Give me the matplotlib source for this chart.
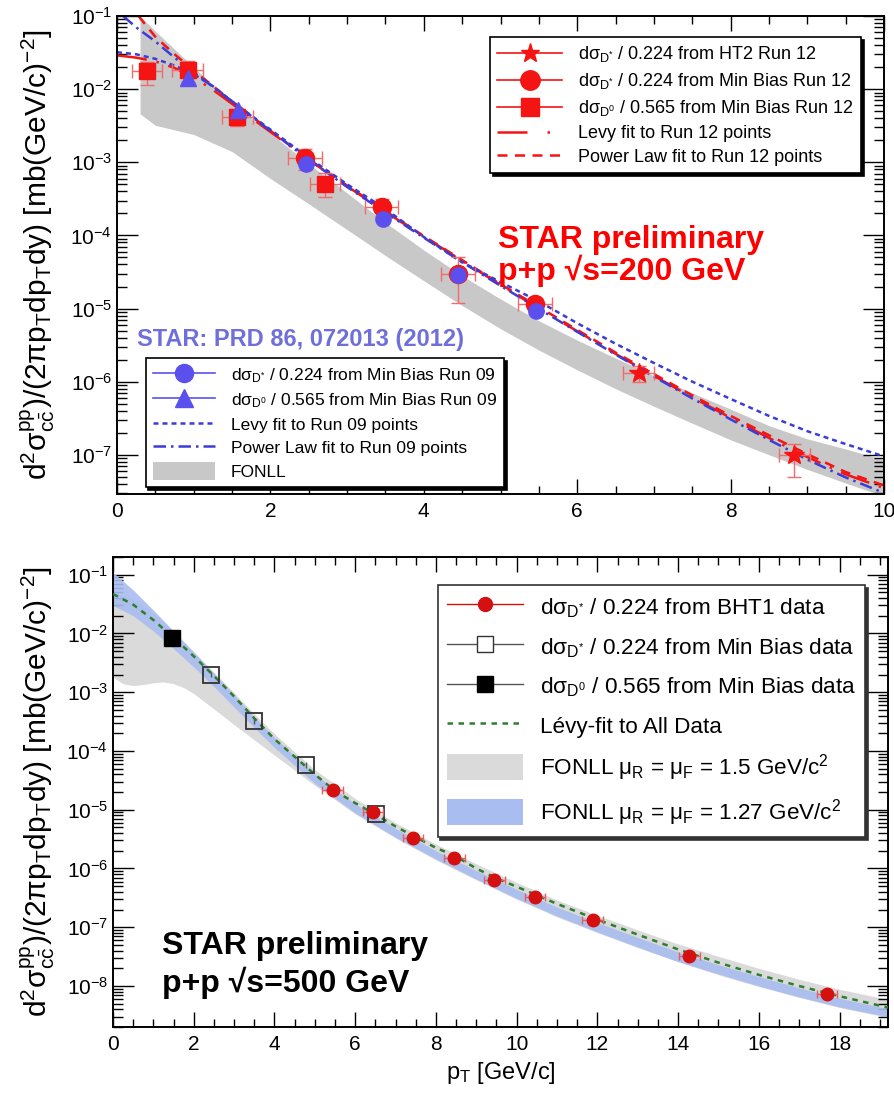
import numpy as np
import matplotlib
matplotlib.use("Agg")
import matplotlib.pyplot as plt
from matplotlib.lines import Line2D
from matplotlib.patches import Patch
from matplotlib.ticker import LogLocator, NullFormatter, MultipleLocator

plt.rcParams["font.family"] = ["Liberation Sans", "DejaVu Sans"]
plt.rcParams["mathtext.fontset"] = "custom"
plt.rcParams["mathtext.rm"] = "Liberation Sans"
plt.rcParams["mathtext.it"] = "Liberation Sans:italic"
plt.rcParams["mathtext.bf"] = "Liberation Sans:bold"
plt.rcParams["mathtext.default"] = "regular"

# ---------------- 200 GeV (top) ----------------
run12_star_x = [6.8, 8.83]
run12_star_y = [1.3e-6, 1.0e-7]
run12_star_lo = [0.3e-6, 0.5e-7]
run12_star_hi = [0.35e-6, 0.4e-7]

run12_circ_x = [2.45, 3.45, 4.45, 5.45]
run12_circ_y = [1.13e-3, 2.45e-4, 3.0e-5, 1.15e-5]
run12_circ_lo = [0.35e-3, 0.6e-4, 1.8e-5, 0.3e-5]
run12_circ_hi = [0.4e-3, 0.7e-4, 2.0e-5, 0.25e-5]

run12_sq_x = [0.39, 0.92, 1.57, 2.71]
run12_sq_y = [0.0175, 0.0185, 0.0042, 5.1e-4]
run12_sq_lo = [0.006, 0.006, 0.0011, 1.8e-4]
run12_sq_hi = [0.006, 0.006, 0.0012, 2.0e-4]

run09_circ_x = [2.46, 3.47, 4.45, 5.46]
run09_circ_y = [9.6e-4, 1.7e-4, 2.9e-5, 9.3e-6]
run09_tri_x = [0.92, 1.58]
run09_tri_y = [0.0142, 0.0052]

fit_x = [0, 0.25, 0.5, 0.75, 1.0, 1.25, 1.5, 2.0, 2.5, 3.0, 3.5, 4.0, 4.5,
         5.0, 5.5, 6.0, 6.5, 7.0, 7.5, 8.0, 8.5, 9.0, 9.5, 10.0]
levy12_y = [0.029, 0.027, 0.024, 0.0195, 0.0145, 0.0098, 0.0063, 0.0026,
            1.08e-3, 4.7e-4, 2.1e-4, 9.6e-5, 4.5e-5, 2.1e-5, 1.0e-5, 4.9e-6,
            2.4e-6, 1.2e-6, 6.1e-7, 3.2e-7, 1.7e-7, 9.3e-8, 5.4e-8, 3.5e-8]
levy09_y = [0.032, 0.030, 0.026, 0.021, 0.016, 0.011, 0.0068, 0.0028,
            1.15e-3, 5.0e-4, 2.3e-4, 9.5e-5, 4.3e-5, 2.3e-5, 1.25e-5, 6.3e-6,
            3.3e-6, 1.8e-6, 1.0e-6, 5.8e-7, 3.4e-7, 2.1e-7, 1.4e-7, 9.5e-8]

pow12_x = [0.28, 0.5, 0.75, 1.0, 1.5, 2.0, 2.5, 3.0, 3.5, 4.0, 4.5, 5.0,
           5.5, 6.0, 6.5, 7.0, 7.5, 8.0, 8.5, 9.0, 9.5, 10.0]
pow12_y = [0.1, 0.052, 0.03, 0.018, 0.0068, 0.0027, 1.1e-3, 4.8e-4, 2.15e-4,
           9.8e-5, 4.6e-5, 2.15e-5, 1.05e-5, 5.1e-6, 2.5e-6, 1.27e-6, 6.5e-7,
           3.4e-7, 1.85e-7, 1.02e-7, 5.8e-8, 3.8e-8]
pow09_x = [0.08, 0.25, 0.5, 0.75, 1.0, 1.5, 2.0, 2.5, 3.0, 3.5, 4.0, 4.5,
           5.0, 5.5, 6.0, 6.5, 7.0, 7.5, 8.0, 8.5, 9.0, 9.5, 10.0]
pow09_y = [0.1, 0.07, 0.045, 0.027, 0.017, 0.0068, 0.0027, 1.08e-3, 4.6e-4,
           2.05e-4, 9.3e-5, 4.3e-5, 2.05e-5, 9.9e-6, 4.8e-6, 2.35e-6, 1.17e-6,
           5.9e-7, 3.05e-7, 1.6e-7, 8.6e-8, 4.9e-8, 3.0e-8]

fonll200_x = [0.3, 0.5, 1.0, 1.5, 2.0, 2.5, 3.0, 3.5, 4.0, 4.5, 5.0, 5.5,
              6.0, 6.5, 7.0, 7.5, 8.0, 8.5, 9.0, 9.5, 10.0]
fonll200_hi = [0.1, 0.062, 0.02, 0.0065, 0.0025, 9.5e-4, 3.8e-4, 1.5e-4,
               6.3e-5, 2.8e-5, 1.35e-5, 6.8e-6, 3.7e-6, 2.1e-6, 1.2e-6,
               7.0e-7, 4.2e-7, 2.5e-7, 1.65e-7, 1.2e-7, 8.5e-8]
fonll200_lo = [0.0046, 0.0032, 0.0024, 0.0014, 6.0e-4, 2.7e-4, 1.2e-4,
               5.3e-5, 2.4e-5, 1.1e-5, 5.3e-6, 2.7e-6, 1.45e-6, 8.0e-7,
               4.6e-7, 2.7e-7, 1.6e-7, 1.0e-7, 6.3e-8, 4.1e-8, 2.7e-8]

# ---------------- 500 GeV (bottom) ----------------
bht1_x = [5.44, 6.45, 7.44, 8.46, 9.45, 10.46, 11.88, 14.28, 17.68]
bht1_y = [2.15e-5, 9.1e-6, 3.3e-6, 1.48e-6, 6.3e-7, 3.3e-7, 1.34e-7,
          3.3e-8, 7.2e-9]
mb_dstar_x = [2.43, 3.5, 4.77, 6.52]
mb_dstar_y = [2.0e-3, 3.2e-4, 5.8e-5, 8.5e-6]
mb_d0_x = [1.46]
mb_d0_y = [8.5e-3]

levy500_x = [0, 0.5, 1.0, 1.5, 2.0, 2.5, 3.0, 3.5, 4.0, 4.5, 5.0, 5.5, 6.0,
             6.5, 7.0, 7.5, 8.0, 8.5, 9.0, 9.5, 10.0, 10.5, 11.0, 12.0, 13.0,
             14.0, 15.0, 16.0, 17.0, 18.0, 19.2]
levy500_y = [0.047, 0.031, 0.017, 0.0085, 0.0041, 1.9e-3, 8.5e-4, 3.6e-4,
             1.6e-4, 8.0e-5, 4.0e-5, 2.1e-5, 1.3e-5, 8.3e-6, 5.2e-6, 3.4e-6,
             2.25e-6, 1.6e-6, 1.0e-6, 6.8e-7, 4.9e-7, 3.5e-7, 2.5e-7, 1.35e-7,
             7.5e-8, 4.2e-8, 2.5e-8, 1.55e-8, 1.0e-8, 6.7e-9, 4.3e-9]

fonll127_x = [0, 0.5, 1.0, 1.5, 2.0, 2.5, 3.0, 3.5, 4.0, 5.0, 6.0, 7.0, 8.0,
              9.0, 10.0, 11.0, 12.0, 13.0, 14.0, 15.0, 16.0, 17.0, 18.0, 19.2]
fonll127_hi = [0.11, 0.055, 0.025, 0.011, 0.0048, 2.1e-3, 9.0e-4, 3.8e-4,
               1.7e-4, 4.0e-5, 1.25e-5, 4.8e-6, 2.0e-6, 9.2e-7, 4.4e-7,
               2.2e-7, 1.2e-7, 6.7e-8, 3.8e-8, 2.3e-8, 1.45e-8, 9.3e-9,
               6.2e-9, 4.1e-9]
fonll127_lo = [0.03, 0.02, 0.011, 0.0055, 0.0027, 1.25e-3, 5.6e-4, 2.5e-4,
               1.15e-4, 2.8e-5, 8.8e-6, 3.4e-6, 1.45e-6, 6.6e-7, 3.1e-7,
               1.55e-7, 8.3e-8, 4.6e-8, 2.6e-8, 1.6e-8, 1.0e-8, 6.5e-9,
               4.4e-9, 3.0e-9]

fonll15_x = [0, 0.25, 0.5, 0.75, 1.0, 1.25, 1.5, 1.75, 2.0, 2.5, 3.0, 3.5,
             4.0, 5.0, 6.0, 7.0, 8.0, 9.0, 10.0, 11.0, 12.0, 13.0, 14.0, 15.0,
             16.0, 17.0, 18.0, 19.2]
fonll15_hi = [0.05, 0.045, 0.038, 0.03, 0.022, 0.015, 0.0105, 0.0072,
              0.0049, 2.2e-3, 9.8e-4, 4.3e-4, 1.95e-4, 4.8e-5, 1.55e-5,
              6.0e-6, 2.6e-6, 1.2e-6, 5.8e-7, 2.9e-7, 1.6e-7, 9.0e-8,
              5.2e-8, 3.2e-8, 2.0e-8, 1.3e-8, 8.8e-9, 5.9e-9]
fonll15_lo = [1.8e-3, 1.4e-3, 1.3e-3, 1.35e-3, 1.45e-3, 1.5e-3, 1.4e-3,
              1.2e-3, 9.5e-4, 5.2e-4, 2.8e-4, 1.55e-4, 8.5e-5, 2.6e-5,
              8.5e-6, 3.3e-6, 1.4e-6, 6.4e-7, 3.0e-7, 1.5e-7, 8.1e-8,
              4.5e-8, 2.6e-8, 1.55e-8, 9.8e-9, 6.4e-9, 4.3e-9, 2.9e-9]

RED = "#f41414"
RED_ERR = "#f26a6a"
BLUE = "#5b50ee"
BLUE_LINE = "#3c3cd6"
GREY_TOP = "#c8c8c8"
GREY_BOT = "#dadada"
BLUE_BAND = "#a9bdf0"
GREEN = "#2f7d2f"

YLABEL = ("d$^{2}$σ$^{pp}_{c\\bar{c}}$)/(2πp$_{T}$dp$_{T}$dy) "
          "[mb(GeV/c)$^{-2}$]")


def style_axes(ax, xmax, ymin, ymax):
    ax.set_yscale("log")
    ax.set_xlim(0, xmax)
    ax.set_ylim(ymin, ymax)
    ax.xaxis.set_major_locator(MultipleLocator(2))
    ax.xaxis.set_minor_locator(MultipleLocator(0.5))
    ax.yaxis.set_major_locator(LogLocator(base=10, numticks=20))
    ax.yaxis.set_minor_locator(LogLocator(base=10, subs=np.arange(2, 10), numticks=20))
    ax.yaxis.set_minor_formatter(NullFormatter())
    ax.tick_params(which="both", direction="in", top=True, right=True,
                   labelsize=15, width=1.0)
    ax.tick_params(axis="y", which="major", length=15)
    ax.tick_params(axis="y", which="minor", length=7)
    ax.tick_params(axis="x", which="major", length=11, pad=6)
    ax.tick_params(axis="x", which="minor", length=6)
    for sp in ax.spines.values():
        sp.set_linewidth(1.4)
    ax.set_ylabel(YLABEL, fontsize=21.5)


fig = plt.figure(figsize=(8.94, 11.07), dpi=100)
ax1 = fig.add_axes([0.1309, 0.5537, 0.8579, 0.4318])
ax2 = fig.add_axes([0.1264, 0.0722, 0.8669, 0.4246])

# top panel
style_axes(ax1, 10, 2.9e-8, 0.1)
ax1.yaxis.set_label_coords(-0.078, 0.5)
ax1.fill_between(fonll200_x, fonll200_lo, fonll200_hi, color=GREY_TOP, lw=0, zorder=1)
ax1.plot(fit_x, levy12_y, color=RED, lw=1.8, ls=(0, (12, 4, 1, 4)), zorder=2)
ax1.plot(pow12_x, pow12_y, color=RED, lw=1.8, ls=(0, (4, 3)), zorder=2)
ax1.plot(fit_x, levy09_y, color=BLUE_LINE, lw=1.8, ls=(0, (2, 1.6)), zorder=2)
ax1.plot(pow09_x, pow09_y, color=BLUE_LINE, lw=1.8, ls=(0, (5, 2, 1, 2)), zorder=2)

ax1.errorbar(run12_sq_x, run12_sq_y, yerr=[run12_sq_lo, run12_sq_hi], xerr=0.2,
             fmt="s", ms=12, color=RED, ecolor=RED_ERR, elinewidth=1.0,
             capsize=5, zorder=3)
ax1.errorbar(run12_circ_x, run12_circ_y, yerr=[run12_circ_lo, run12_circ_hi],
             xerr=0.22, fmt="o", ms=13, color=RED, ecolor=RED_ERR,
             elinewidth=1.0, capsize=5, zorder=3)
ax1.errorbar(run12_star_x, run12_star_y, yerr=[run12_star_lo, run12_star_hi],
             xerr=0.2, fmt="*", ms=15, color=RED, ecolor=RED_ERR,
             elinewidth=1.0, capsize=5, zorder=3)
ax1.errorbar(run09_circ_x, run09_circ_y, yerr=np.array(run09_circ_y) * 0.2,
             fmt="o", ms=11, color=BLUE, ecolor=BLUE, elinewidth=1.0, zorder=4)
ax1.errorbar(run09_tri_x, run09_tri_y, yerr=np.array(run09_tri_y) * 0.2,
             fmt="^", ms=11, color=BLUE, ecolor=BLUE, elinewidth=1.0, zorder=4)

h12 = [
    Line2D([], [], color=RED, lw=1.2, marker="*", ms=14),
    Line2D([], [], color=RED, lw=1.2, marker="o", ms=14),
    Line2D([], [], color=RED, lw=1.2, marker="s", ms=13),
    Line2D([], [], color=RED, lw=1.8, ls=(0, (12, 8, 1, 8))),
    Line2D([], [], color=RED, lw=1.8, ls=(0, (4, 3))),
]
l12 = [
    "dσ$_{D^{*}}$ / 0.224 from HT2 Run 12",
    "dσ$_{D^{*}}$ / 0.224 from Min Bias Run 12",
    "dσ$_{D^{0}}$ / 0.565 from Min Bias Run 12",
    "Levy fit to Run 12 points",
    "Power Law fit to Run 12 points",
]
leg1 = ax1.legend(h12, l12, loc="upper right", bbox_to_anchor=(0.982, 0.975),
                  fontsize=13, frameon=True, fancybox=False,
                  shadow={"color": "black", "alpha": 1.0},
                  edgecolor="black", framealpha=1, labelspacing=0.38,
                  handlelength=3.6, handletextpad=0.9, borderpad=0.4)
leg1.get_frame().set_linewidth(1.2)
ax1.add_artist(leg1)

h09 = [
    Line2D([], [], color=BLUE, lw=1.2, marker="o", ms=13),
    Line2D([], [], color=BLUE, lw=1.2, marker="^", ms=13),
    Line2D([], [], color=BLUE_LINE, lw=1.8, ls=(0, (2, 1.6))),
    Line2D([], [], color=BLUE_LINE, lw=1.8, ls=(0, (5, 2, 1, 2))),
    Patch(facecolor=GREY_TOP, edgecolor="none"),
]
l09 = [
    "dσ$_{D^{*}}$ / 0.224 from Min Bias Run 09",
    "dσ$_{D^{0}}$ / 0.565 from Min Bias Run 09",
    "Levy fit to Run 09 points",
    "Power Law fit to Run 09 points",
    "FONLL",
]
leg2 = ax1.legend(h09, l09, loc="upper left", bbox_to_anchor=(0.026, 0.302),
                  fontsize=12.5, frameon=True, fancybox=False,
                  shadow={"color": "black", "alpha": 1.0},
                  edgecolor="black", framealpha=1, labelspacing=0.32,
                  handlelength=3.6, handleheight=1.2, handletextpad=0.9,
                  borderpad=0.4)
leg2.get_frame().set_linewidth(1.2)

ax1.text(0.497, 0.498, "STAR preliminary\np+p √s=200 GeV", transform=ax1.transAxes,
         color="#ff0000", fontsize=23, fontweight="bold", va="center",
         ha="left", linespacing=1.0)
ax1.text(0.026, 0.324, "STAR: PRD 86, 072013 (2012)", transform=ax1.transAxes,
         color="#6f6fdc", fontsize=17, fontweight="bold", va="center",
         ha="left")

# bottom panel
style_axes(ax2, 19.2, 2e-9, 0.2)
ax2.yaxis.set_label_coords(-0.072, 0.5)
ax2.set_xlabel("p$_{T}$ [GeV/c]", fontsize=17, labelpad=4)
ax2.fill_between(fonll15_x, fonll15_lo, fonll15_hi, color=GREY_BOT, lw=0, zorder=1)
ax2.fill_between(fonll127_x, fonll127_lo, fonll127_hi, color=BLUE_BAND, lw=0,
                 alpha=0.9, zorder=2)
ax2.plot(levy500_x, levy500_y, color=GREEN, lw=1.8, ls=(0, (2.2, 2.2)), zorder=3)

ax2.errorbar(bht1_x, bht1_y, xerr=0.25, yerr=np.array(bht1_y) * 0.12, fmt="o",
             ms=9, color="#d41010", ecolor="#e06060", elinewidth=1.0,
             capsize=3, zorder=5)
ax2.errorbar(mb_dstar_x, mb_dstar_y, yerr=np.array(mb_dstar_y) * 0.1, fmt="s",
             ms=11, mfc="none", mec="#333333", mew=1.3, ecolor="#555555",
             elinewidth=1.0, zorder=4)
ax2.errorbar(mb_d0_x, mb_d0_y, yerr=np.array(mb_d0_y) * 0.1, fmt="s", ms=11,
             color="black", ecolor="#555555", elinewidth=1.0, zorder=4)

h500 = [
    Line2D([], [], color="#d41010", lw=1.0, marker="o", ms=10),
    Line2D([], [], color="#555555", lw=1.0, marker="s", ms=11, mfc="white",
           mec="#333333"),
    Line2D([], [], color="#555555", lw=1.0, marker="s", ms=11, mfc="black",
           mec="black"),
    Line2D([], [], color=GREEN, lw=1.8, ls=(0, (2.2, 2.2))),
    Patch(facecolor=GREY_BOT, edgecolor="none"),
    Patch(facecolor=BLUE_BAND, edgecolor="none"),
]
l500 = [
    "dσ$_{D^{*}}$ / 0.224 from BHT1 data",
    "dσ$_{D^{*}}$ / 0.224 from Min Bias data",
    "dσ$_{D^{0}}$ / 0.565 from Min Bias data",
    "Lévy-fit to All Data",
    "FONLL μ$_{R}$ = μ$_{F}$ = 1.5 GeV/c$^{2}$",
    "FONLL μ$_{R}$ = μ$_{F}$ = 1.27 GeV/c$^{2}$",
]
leg3 = ax2.legend(h500, l500, loc="upper right", bbox_to_anchor=(0.985, 0.964),
                  fontsize=16.2, frameon=True, fancybox=False,
                  shadow={"color": "#333333", "alpha": 1.0},
                  edgecolor="#333333", framealpha=1, labelspacing=0.6,
                  handlelength=3.4, handleheight=1.4, handletextpad=0.75,
                  borderpad=0.4)
leg3.get_frame().set_linewidth(1.2)

ax2.text(0.063, 0.132, "STAR preliminary\np+p √s=500 GeV", transform=ax2.transAxes,
         color="black", fontsize=23, fontweight="bold", va="center",
         ha="left", linespacing=1.2)

fig.savefig("out.png", dpi=100)
